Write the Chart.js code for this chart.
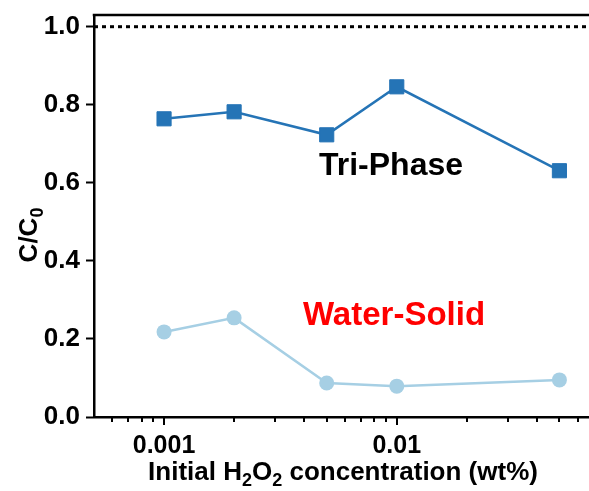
<!DOCTYPE html>
<html>
<head>
<meta charset="utf-8">
<script src="https://cdn.jsdelivr.net/npm/chart.js@4.4.1/dist/chart.umd.min.js"></script>
<style>
  html, body { margin: 0; padding: 0; background: #fff; }
  #wrap { width: 589px; height: 491px; }
</style>
</head>
<body>
<div id="wrap"><canvas id="grafico"></canvas></div>
<script>
// data
const concentracoes = [0.001, 0.002, 0.005, 0.01, 0.05];
const triPhase = [0.764, 0.782, 0.723, 0.846, 0.631];
const waterSolid = [0.218, 0.254, 0.087, 0.079, 0.095];
const linhaRef = 1.0;

const xMin = 0.0005;
const xMax = 0.067;
const yMin = 0;
const yMax = 1.03;
const yTicks = [0, 0.2, 0.4, 0.6, 0.8, 1.0];
const xMajor = [0.001, 0.01];
const xMinor = [0.0006, 0.0007, 0.0008, 0.0009,
                0.002, 0.003, 0.004, 0.005, 0.006, 0.007, 0.008, 0.009,
                0.02, 0.03, 0.04, 0.05, 0.06];

const FONTE = "'Liberation Sans', Arial, sans-serif";
const AZUL = "#2574b6";
const AZUL_CLARO = "#a6cfe4";

function pontos(ys) {
    return concentracoes.map((x, i) => ({ x: x, y: ys[i] }));
}

// draws text pieces, some of them as subscripts
function textoComIndice(ctx, partes, tamanho, cx, base) {
    const fMain = "bold " + tamanho + "px " + FONTE;
    const fSub = "bold " + Math.round(tamanho * 0.68) + "px " + FONTE;
    let total = 0;
    partes.forEach(p => {
        ctx.font = p.sub ? fSub : fMain;
        total += ctx.measureText(p.t).width;
    });
    let x = cx - total / 2;
    ctx.textAlign = "left";
    ctx.textBaseline = "alphabetic";
    partes.forEach(p => {
        ctx.font = p.sub ? fSub : fMain;
        ctx.fillText(p.t, x, p.sub ? base + tamanho * 0.22 : base);
        x += ctx.measureText(p.t).width;
    });
}

const extras = {
    id: "extras",
    afterDraw(chart) {
        const ctx = chart.ctx;
        const area = chart.chartArea;
        const sx = chart.scales.x;
        ctx.save();
        ctx.strokeStyle = "#000";
        ctx.lineWidth = 2.5;

        // top border
        ctx.beginPath();
        ctx.moveTo(area.left - 1.25, area.top);
        ctx.lineTo(chart.width, area.top);
        ctx.stroke();

        // x ticks, major and minor
        ctx.lineWidth = 2;
        xMajor.forEach(v => {
            const px = Math.round(sx.getPixelForValue(v));
            ctx.beginPath();
            ctx.moveTo(px, area.bottom);
            ctx.lineTo(px, area.bottom + 8);
            ctx.stroke();
        });
        xMinor.forEach(v => {
            const px = Math.round(sx.getPixelForValue(v));
            ctx.beginPath();
            ctx.moveTo(px, area.bottom);
            ctx.lineTo(px, area.bottom + 5);
            ctx.stroke();
        });

        // axis titles
        ctx.fillStyle = "#000";
        textoComIndice(ctx, [
            { t: "Initial H" }, { t: "2", sub: true }, { t: "O" }, { t: "2", sub: true },
            { t: " concentration (wt%)" }
        ], 26, 343, 480);

        ctx.save();
        ctx.translate(37, 235);
        ctx.rotate(-Math.PI / 2);
        textoComIndice(ctx, [{ t: "C/C" }, { t: "0", sub: true }], 26, 0, 0);
        ctx.restore();

        // series labels
        ctx.textAlign = "center";
        ctx.textBaseline = "alphabetic";
        ctx.font = "bold 32px " + FONTE;
        ctx.fillStyle = "#000";
        ctx.fillText("Tri-Phase", 391, 175);
        ctx.font = "bold 33px " + FONTE;
        ctx.fillStyle = "#ff0000";
        ctx.fillText("Water-Solid", 394, 325);

        ctx.restore();
    }
};

new Chart(document.getElementById("grafico"), {
    type: "line",
    data: {
        datasets: [
            {
                label: "Tri-Phase",
                data: pontos(triPhase),
                borderColor: AZUL,
                backgroundColor: AZUL,
                borderWidth: 2.5,
                pointStyle: "rect",
                pointRadius: 10,
                pointBorderWidth: 1,
                pointBorderColor: AZUL,
                pointBackgroundColor: AZUL
            },
            {
                label: "Water-Solid",
                data: pontos(waterSolid),
                borderColor: AZUL_CLARO,
                backgroundColor: AZUL_CLARO,
                borderWidth: 2.5,
                pointStyle: "circle",
                pointRadius: 7.5,
                pointBorderWidth: 0,
                pointBackgroundColor: AZUL_CLARO
            },
            {
                label: "ref",
                data: [{ x: xMin, y: linhaRef }, { x: xMax, y: linhaRef }],
                borderColor: "#000",
                borderWidth: 3,
                borderDash: [4, 4],
                pointRadius: 0
            }
        ]
    },
    options: {
        responsive: true,
        maintainAspectRatio: false,
        animation: false,
        devicePixelRatio: 1,
        layout: { autoPadding: false, padding: { top: 15, right: 0, left: 0, bottom: 0 } },
        plugins: {
            legend: { display: false },
            tooltip: { enabled: false }
        },
        scales: {
            x: {
                type: "logarithmic",
                min: xMin,
                max: xMax,
                bounds: "data",
                afterBuildTicks: s => {
                    s.min = xMin;
                    s.max = xMax;
                    s.ticks = xMajor.map(v => ({ value: v }));
                },
                afterFit: s => { s.height = 74; s.paddingLeft = 0; s.paddingRight = 0; },
                border: { display: true, color: "#000", width: 2.5 },
                grid: { display: true, drawOnChartArea: false, drawTicks: true, tickLength: 8, tickColor: "rgba(0,0,0,0)" },
                ticks: {
                    autoSkip: false,
                    maxRotation: 0,
                    padding: 6,
                    color: "#000",
                    font: { family: FONTE, size: 25, weight: "bold" },
                    callback: v => String(v)
                }
            },
            y: {
                type: "linear",
                min: yMin,
                max: yMax,
                afterBuildTicks: s => {
                    s.min = yMin;
                    s.max = yMax;
                    s.ticks = yTicks.map(v => ({ value: v }));
                },
                afterFit: s => { s.width = 94; s.paddingTop = 0; s.paddingBottom = 0; },
                border: { display: true, color: "#000", width: 2.5 },
                grid: { display: true, drawOnChartArea: false, drawTicks: true, tickLength: 8, tickWidth: 2, tickColor: "#000" },
                ticks: {
                    padding: 6,
                    color: "#000",
                    font: { family: FONTE, size: 26, weight: "bold" },
                    callback: v => Number(v).toFixed(1)
                }
            }
        }
    },
    plugins: [extras]
});
</script>
</body>
</html>
